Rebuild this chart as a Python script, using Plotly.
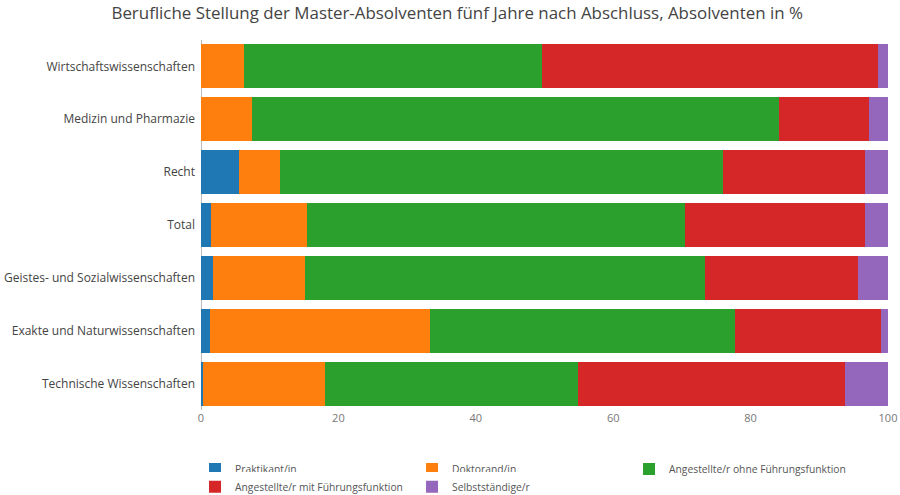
import plotly.graph_objects as go

categories = [
    "Wirtschaftswissenschaften",
    "Medizin und Pharmazie",
    "Recht",
    "Total",
    "Geistes- und Sozialwissenschaften",
    "Exakte und Naturwissenschaften",
    "Technische Wissenschaften",
]
praktikant = [0.0, 0.0, 5.6, 1.5, 1.8, 1.3, 0.3]
doktorand = [6.3, 7.4, 5.9, 13.9, 13.3, 32.1, 17.8]
ohne_fuehrung = [43.4, 76.7, 64.5, 55.0, 58.3, 44.4, 36.8]
mit_fuehrung = [48.8, 13.1, 20.7, 26.3, 22.2, 21.2, 38.8]
selbststaendig = [1.5, 2.8, 3.3, 3.3, 4.4, 1.0, 6.3]

series = [
    ("Praktikant/in", praktikant, "#1f77b4", "legend"),
    ("Doktorand/in", doktorand, "#ff7f0e", "legend"),
    ("Angestellte/r ohne Führungsfunktion", ohne_fuehrung, "#2ca02c", "legend"),
    ("Angestellte/r mit Führungsfunktion", mit_fuehrung, "#d62728", "legend2"),
    ("Selbstständige/r", selbststaendig, "#9467bd", "legend2"),
]

fig = go.Figure()
for name, vals, color, leg in series:
    fig.add_trace(go.Bar(
        y=categories, x=vals, name=name, orientation="h",
        marker=dict(color=color, line=dict(width=0)),
        legend=leg,
    ))

legend_common = dict(
    orientation="h", xanchor="left", yanchor="top",
    entrywidth=172, entrywidthmode="pixels",
    font=dict(size=10.3, color="#555"),
    traceorder="normal",
)

fig.update_layout(
    barmode="stack",
    bargap=0.17,
    width=900, height=495,
    margin=dict(l=201, r=12, t=40, b=85, autoexpand=False),
    paper_bgcolor="white",
    plot_bgcolor="white",
    font=dict(family="Open Sans", size=12, color="#444"),
    title=dict(
        text="Berufliche Stellung der Master-Absolventen fünf Jahre nach Abschluss, Absolventen in %",
        x=0.508, xanchor="center", y=0.974, yanchor="middle",
        font=dict(size=16.9, color="#444"),
    ),
    xaxis=dict(
        range=[0, 100], tickvals=[0, 20, 40, 60, 80, 100],
        showgrid=False, zeroline=True, zerolinecolor="#bbb", zerolinewidth=1,
        tickfont=dict(size=11, color="#777"),
        automargin=False,
    ),
    yaxis=dict(
        autorange="reversed", showgrid=False,
        tickfont=dict(size=12, color="#444"),
        ticklabelstandoff=5,
        automargin=False,
    ),
    legend=dict(x=-0.0087, y=-0.12, **legend_common),
    legend2=dict(x=-0.0087, y=-0.168, **legend_common),
)

fig.write_html(
    "out.html",
    config={"displayModeBar": False},
    post_script="document.body.style.margin='0';document.body.style.overflow='hidden';",
)
